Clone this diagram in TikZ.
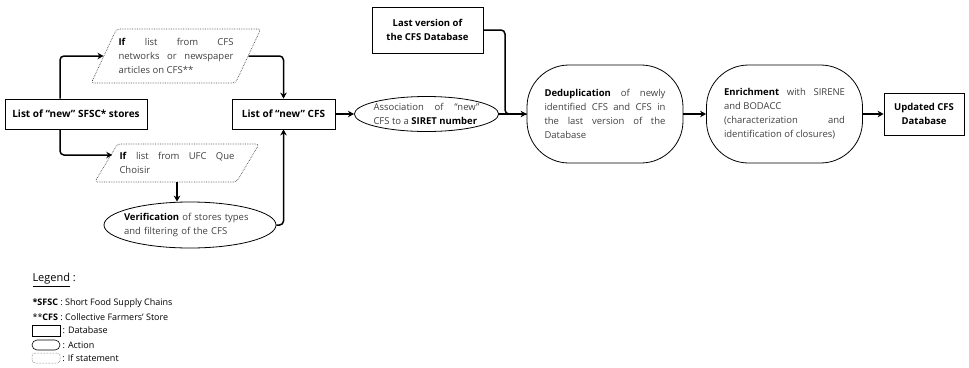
\documentclass[tikz,border=0pt]{standalone}
\usepackage{fontspec}
\setmainfont{Open Sans}
\usetikzlibrary{shapes.geometric,arrows.meta}
\newcommand\kw[1]{\textcolor{black}{\textbf{#1}}}

\begin{document}
\begin{tikzpicture}[x=1pt,y=-1pt,font=\fontsize{9.5}{14}\selectfont,
  database/.style={draw,line width=0.8pt,font=\fontsize{9.5}{14}\selectfont\bfseries,align=center,inner sep=2pt},
  action/.style={draw,ellipse,line width=0.8pt,inner sep=0pt,text=black!75},
  bigaction/.style={draw,line width=0.8pt,rounded corners=42pt,minimum height=98pt,text width=121pt,inner xsep=17.5pt,align=justify,text=black!75},
  ifstate/.style={draw=black!70,densely dotted,line width=0.7pt,trapezium,trapezium stretches body,rounded corners=3pt,text width=115pt,align=justify,inner xsep=2pt,text=black!75},
  flow/.style={line width=1.5pt,-{Stealth[length=6pt,width=6.5pt]},rounded corners=4pt}]
\useasboundingbox (0,0) rectangle (969,367);

% left part
\node[database,font=\fontsize{10}{14}\selectfont\bfseries,minimum width=142pt,minimum height=30pt] (sfsc) at (76,114) {List of “new” SFSC* stores};
\node[ifstate,trapezium left angle=59,trapezium right angle=121,minimum height=54pt] (ifcfs) at (176,56)
  {\kw{If} list from CFS\linebreak networks or newspaper\linebreak articles on CFS**};
\node[ifstate,trapezium left angle=51,trapezium right angle=129,minimum height=38pt] (ifufc) at (177,163)
  {\kw{If} list from UFC Que\linebreak Choisir};
\node[action,text width=132pt,inner xsep=-10pt,minimum width=172pt,minimum height=46pt,align=left] (verif) at (190,225)
  {\kw{Verification} of stores types\\and filtering of the CFS};
\node[database,font=\fontsize{10}{14}\selectfont\bfseries,minimum width=103pt,minimum height=30pt] (cfslist) at (283.5,114) {List of “new” CFS};

\draw[flow] ([xshift=-16pt]sfsc.north) |- (ifcfs.west);
\draw[flow] ([xshift=-16pt]sfsc.south) |- ([xshift=6.5pt,yshift=8pt]ifufc.west);
\draw[flow] (ifcfs.east) -| (cfslist.north);
\draw[flow] (ifufc.south) -- (ifufc.south |- verif.north);
\draw[flow] (verif.east) -| (cfslist.south);

% main chain
\node[action,text width=106pt,inner xsep=-2pt,minimum height=35pt,align=justify] (assoc) at (426.5,114)
  {Association of “new”\linebreak CFS to a \kw{SIRET number}};
\node[database,minimum width=111pt,minimum height=46pt] (last) at (427.5,30) {Last version of\\the CFS Database};
\coordinate (join) at (505,114);
\node[bigaction] (dedup) at (605,114)
  {\kw{Deduplication} of newly\linebreak identified CFS and CFS in\linebreak the last version of the\linebreak Database};
\node[bigaction] (enrich) at (784.5,114)
  {\kw{Enrichment} with SIRENE\linebreak and BODACC\newline (characterization and\linebreak identification of closures)};
\node[database,minimum width=80pt,minimum height=42pt] (upd) at (924,114) {Updated CFS\\Database};

\draw[flow] (cfslist) -- (assoc);
\draw[flow] (assoc) -- (dedup);
\draw[line width=1.5pt,rounded corners=4pt] (last.east) -| (join) -- (dedup.west);
\draw[flow] (dedup) -- (enrich);
\draw[flow] (enrich) -- (upd);

% legend
\node[anchor=west,font=\fontsize{11}{13}\selectfont] (legend) at (29,280) {\underline{Legend} :};
\node[anchor=west,font=\fontsize{9}{13}\selectfont] (sfscdef) at (29,303) {\textbf{*SFSC} : Short Food Supply Chains};
\node[anchor=west,font=\fontsize{9}{13}\selectfont] (cfsdef) at (29,317) {**\textbf{CFS} : Collective Farmers’ Store};
\node[draw,line width=0.6pt,minimum width=28pt,minimum height=11pt,inner sep=0pt] (dbkey) at (46,330.5) {};
\node[anchor=west,inner sep=2pt,font=\fontsize{9}{13}\selectfont] at (dbkey.east) {: Database};
\node[draw,line width=0.6pt,rounded corners=5pt,minimum width=28pt,minimum height=10pt,inner sep=0pt] (actkey) at (46,345) {};
\node[anchor=west,inner sep=2pt,font=\fontsize{9}{13}\selectfont] at (actkey.east) {: Action};
\node[draw=black!70,densely dotted,line width=0.5pt,trapezium,trapezium left angle=45,trapezium right angle=135,trapezium stretches body,rounded corners=3pt,minimum width=28pt,minimum height=10pt,inner sep=0pt] (ifkey) at (46,358) {};
\node[anchor=west,inner sep=2pt,font=\fontsize{9}{13}\selectfont] at (ifkey.east) {: If statement};
\end{tikzpicture}
\end{document}
